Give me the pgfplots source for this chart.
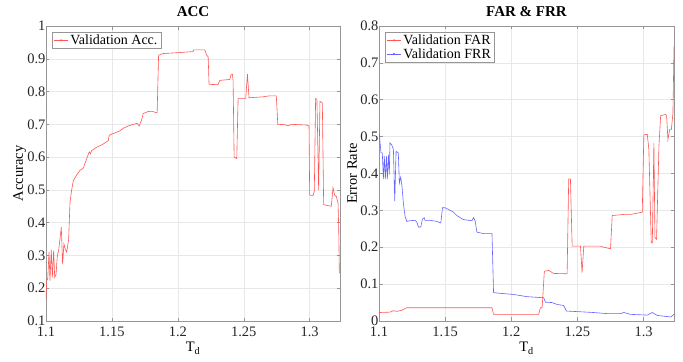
\documentclass[border=0pt]{standalone}
\usepackage{pgfplots}
\pgfplotsset{compat=1.18}
\usepackage{fontspec}
\setmainfont{Liberation Serif}
\definecolor{lred}{RGB}{255,85,85}
\definecolor{lblue}{RGB}{100,100,255}
\definecolor{axgray}{RGB}{150,150,150}
\begin{document}
\begin{tikzpicture}
\pgfplotsset{
  myaxis/.style={
    scale only axis,
    width=294bp, height=295bp,
    xmin=1.1, xmax=1.323,
    xtick={1.1,1.15,1.2,1.25,1.3},
    xticklabels={1.1,1.15,1.2,1.25,1.3},
    tick align=inside,
    major tick length=3.5bp,
    tick style={axgray, line width=0.5bp},
    axis line style={axgray, line width=0.6bp},
    grid=major,
    grid style={gray!18, line width=0.5bp},
    tick label style={font=\rmfamily\fontsize{14.5bp}{16bp}\selectfont, text=black!85},
    yticklabel style={xshift=3bp},
    xticklabel style={yshift=-2.2bp},
    label style={font=\fontsize{14.5bp}{16bp}\selectfont},
    title style={font=\fontsize{15bp}{17bp}\selectfont\bfseries, yshift=0bp},
    xlabel={T\textsubscript{d}},
    xlabel style={yshift=1bp},
    legend style={font=\fontsize{14bp}{15bp}\selectfont, draw=axgray, line width=0.5bp,
      at={(axis description cs:0,1)}, anchor=north west, xshift=6bp, yshift=-6bp,
      inner xsep=1.5bp, inner ysep=0.5bp, row sep=-1.5bp, cells={anchor=west}},
    legend image code/.code={
      \draw[#1] (0bp,0bp) -- (14bp,0bp);
      \fill[#1] (7bp,0bp) circle (0.7bp);
    },
  }
}
\begin{axis}[myaxis, at={(0,0)}, anchor=south west,
  ymin=0.1, ymax=1, ytick={0.1,0.2,0.3,0.4,0.5,0.6,0.7,0.8,0.9,1.0},
  yticklabels={0.1,0.2,0.3,0.4,0.5,0.6,0.7,0.8,0.9,1},
  title={ACC},
  ylabel={Accuracy},
  ylabel style={at={(axis description cs:-0.079,0.5)}, anchor=base, rotate=0},
]
\addplot[lred, line width=0.6bp] table {
1.1000 0.167
1.1005 0.223
1.1013 0.228
1.1023 0.310
1.1030 0.223
1.1040 0.317
1.1048 0.233
1.1058 0.315
1.1066 0.233
1.1076 0.242
1.1086 0.300
1.1096 0.315
1.1116 0.386
1.1126 0.274
1.1136 0.335
1.1146 0.320
1.1157 0.310
1.1172 0.350
1.1182 0.462
1.1194 0.498
1.1207 0.528
1.1232 0.545
1.1258 0.560
1.1283 0.566
1.1295 0.580
1.1313 0.600
1.1328 0.616
1.1338 0.610
1.1346 0.620
1.1384 0.630
1.1434 0.640
1.1472 0.650
1.1480 0.667
1.1523 0.674
1.1561 0.680
1.1586 0.688
1.1624 0.695
1.1661 0.700
1.1692 0.703
1.1707 0.695
1.1725 0.713
1.1737 0.733
1.1775 0.739
1.1801 0.740
1.1843 0.735
1.1854 0.911
1.1889 0.916
1.2015 0.919
1.2116 0.922
1.2121 0.927
1.2205 0.927
1.2217 0.912
1.2230 0.906
1.2237 0.822
1.2305 0.821
1.2318 0.834
1.2394 0.837
1.2402 0.850
1.2414 0.853
1.2419 0.835
1.2427 0.600
1.2447 0.596
1.2457 0.779
1.2515 0.779
1.2528 0.853
1.2540 0.781
1.2646 0.784
1.2697 0.787
1.2747 0.787
1.2758 0.700
1.2811 0.699
1.2836 0.695
1.2861 0.700
1.2975 0.698
1.2995 0.695
1.3000 0.484
1.3025 0.483
1.3035 0.495
1.3045 0.779
1.3055 0.776
1.3068 0.500
1.3078 0.770
1.3096 0.765
1.3106 0.455
1.3164 0.450
1.3177 0.507
1.3189 0.484
1.3202 0.480
1.3215 0.460
1.3220 0.390
1.3225 0.245
};
\addlegendentry{Validation Acc.}
\end{axis}
\begin{axis}[myaxis, at={(333bp,0)}, anchor=south west,
  width=295bp,
  ymin=0, ymax=0.8, ytick={0,0.1,0.2,0.3,0.4,0.5,0.6,0.7,0.8},
  yticklabels={0,0.1,0.2,0.3,0.4,0.5,0.6,0.7,0.8},
  title={FAR \& FRR},
  ylabel={Error Rate},
  ylabel style={at={(axis description cs:-0.075,0.5)}, anchor=base, rotate=0},
]
\addplot[lred, line width=0.6bp] table {
1.1000 0.023
1.1083 0.024
1.1109 0.028
1.1134 0.026
1.1172 0.029
1.1210 0.036
1.1854 0.036
1.1866 0.018
1.2207 0.018
1.2220 0.036
1.2233 0.036
1.2250 0.135
1.2283 0.137
1.2320 0.129
1.2422 0.128
1.2434 0.385
1.2447 0.385
1.2460 0.203
1.2523 0.203
1.2535 0.131
1.2548 0.203
1.2674 0.203
1.2699 0.200
1.2750 0.196
1.2763 0.286
1.2851 0.289
1.2902 0.289
1.2990 0.295
1.3002 0.505
1.3028 0.506
1.3040 0.465
1.3058 0.212
1.3066 0.212
1.3078 0.483
1.3086 0.226
1.3098 0.222
1.3116 0.473
1.3129 0.557
1.3167 0.560
1.3174 0.557
1.3184 0.492
1.3197 0.519
1.3210 0.519
1.3222 0.564
1.3230 0.744
};
\addlegendentry{Validation FAR}
\addplot[lblue, line width=0.6bp] table {
1.1002 0.508
1.1015 0.456
1.1025 0.456
1.1033 0.385
1.1040 0.447
1.1048 0.385
1.1056 0.447
1.1063 0.385
1.1071 0.451
1.1078 0.397
1.1083 0.483
1.1096 0.478
1.1109 0.465
1.1119 0.325
1.1129 0.460
1.1146 0.456
1.1154 0.374
1.1164 0.390
1.1174 0.365
1.1184 0.320
1.1197 0.284
1.1210 0.270
1.1235 0.272
1.1273 0.273
1.1286 0.268
1.1298 0.255
1.1316 0.255
1.1328 0.276
1.1341 0.280
1.1348 0.273
1.1386 0.273
1.1437 0.270
1.1467 0.266
1.1480 0.307
1.1500 0.307
1.1538 0.300
1.1563 0.295
1.1588 0.286
1.1639 0.275
1.1702 0.272
1.1715 0.280
1.1727 0.271
1.1740 0.241
1.1790 0.237
1.1854 0.237
1.1866 0.077
1.1917 0.075
1.2017 0.072
1.2119 0.066
1.2245 0.063
1.2258 0.051
1.2308 0.050
1.2346 0.045
1.2396 0.042
1.2417 0.027
1.2523 0.025
1.2623 0.023
1.2725 0.020
1.2826 0.020
1.2851 0.023
1.2902 0.018
1.3028 0.016
1.3066 0.023
1.3104 0.015
1.3205 0.011
1.3230 0.018
};
\addlegendentry{Validation FRR}
\end{axis}
\pgfresetboundingbox
\path (-46bp,-41bp) rectangle (637bp,321bp);
\end{tikzpicture}
\end{document}
